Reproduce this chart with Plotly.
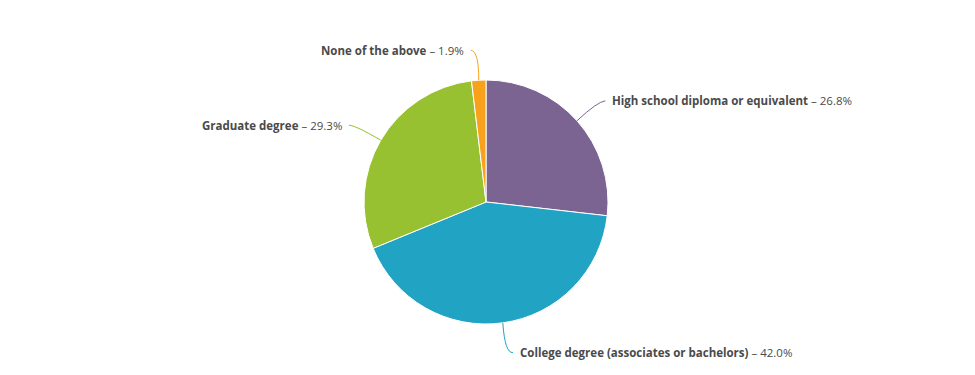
import math
import plotly.graph_objects as go

categories = ["High school diploma or equivalent", "College degree (associates or bachelors)",
              "Graduate degree", "None of the above"]
values = [26.8, 42.0, 29.3, 1.9]
colors = ["#7C6492", "#21A3C4", "#98C131", "#F8A21C"]

W, H = 975, 375
OFF = 8  # page body margin
CX, CY, R = 486 - OFF, 202 - OFF, 122
dom_x = [(CX - R) / W, (CX + R) / W]
dom_y = [(H - CY - R) / H, (H - CY + R) / H]

fig = go.Figure(go.Pie(
    labels=categories, values=values, sort=False, direction="clockwise", rotation=0,
    marker=dict(colors=colors, line=dict(color="#ffffff", width=1)),
    textinfo="none", hoverinfo="label+percent", showlegend=False,
    domain=dict(x=dom_x, y=dom_y),
))

def to_paper(px, py):
    return px / W, 1 - py / H

total = sum(values)
cum = 0.0
shapes, annos = [], []
DIST = 30
for name, v, c in zip(categories, values, colors):
    mid = (cum + v / 2) / total * 2 * math.pi
    cum += v
    s, co = math.sin(mid), math.cos(mid)
    ex, ey = CX + R * s, CY - R * co
    bx, by = CX + (R + DIST) * s, CY - (R + DIST) * co
    side = 1 if s >= 0 else -1
    lx = bx + side * 6
    tx = lx + side * 5
    p = [to_paper(ex, ey), to_paper(bx - side * 2, by + 1), to_paper(lx, by)]
    path = "M {} {} Q {} {} {} {}".format(p[0][0], p[0][1], p[1][0], p[1][1], p[2][0], p[2][1])
    shapes.append(dict(type="path", xref="paper", yref="paper", path=path,
                       line=dict(color=c, width=1)))
    ax, ay = to_paper(tx, by)
    annos.append(dict(x=ax, y=ay, xref="paper", yref="paper", showarrow=False,
                      xanchor="left" if side > 0 else "right", yanchor="middle",
                      text="<b>{}</b> – {:.1f}%".format(name, v),
                      font=dict(family="Open Sans", size=11.5, color="#4a4a4a")))

fig.update_layout(width=W, height=H, margin=dict(l=0, r=0, t=0, b=0),
                  paper_bgcolor="#ffffff", plot_bgcolor="#ffffff",
                  shapes=shapes, annotations=annos)
fig.write_html("out.html")
